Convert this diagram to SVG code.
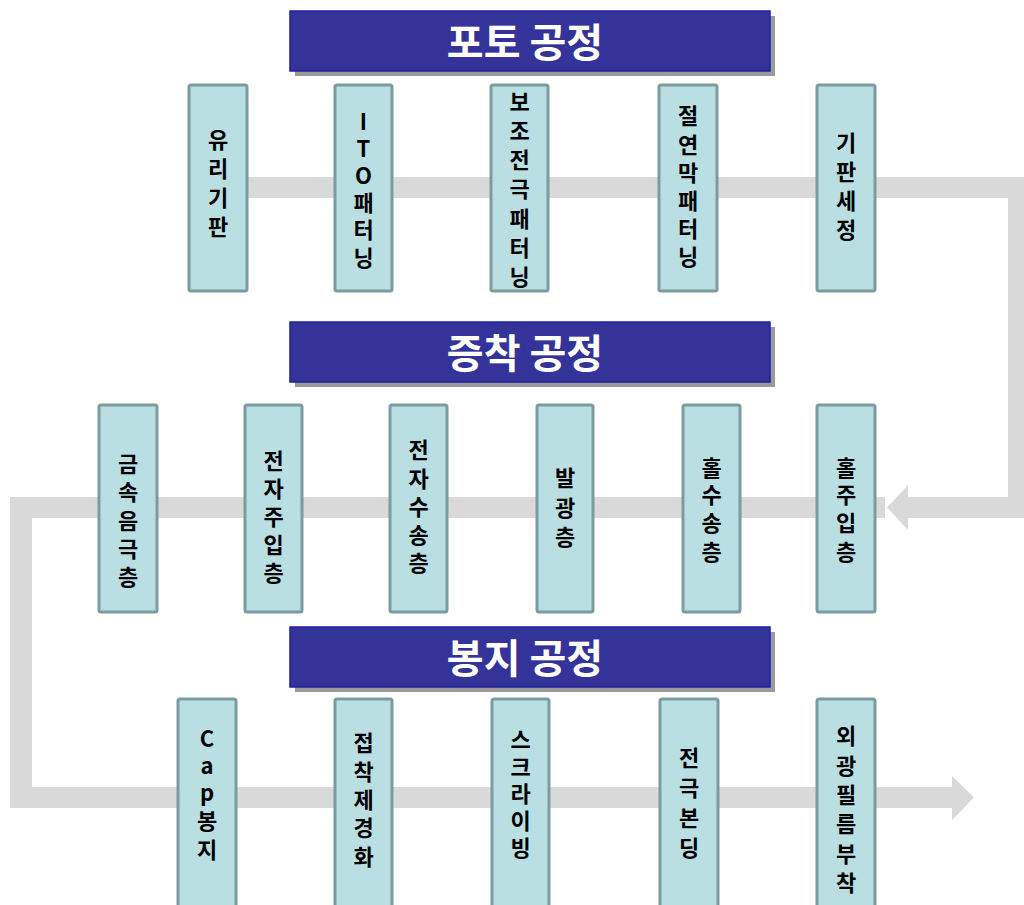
<svg xmlns="http://www.w3.org/2000/svg" width="1024" height="905" viewBox="0 0 1024 905">
<style>
.band{fill:#d9d9d9}
.bar{fill:#333399;stroke:#2020a0;stroke-width:1.5}
.shadow{fill:#9a9a9a}
.ttl{font-family:"Noto Sans CJK KR","Noto Sans",sans-serif;font-weight:bold;font-size:40px;fill:#ffffff;text-anchor:middle}
.box{fill:#b9dfe3;stroke:#7b9b9d;stroke-width:3}
.lbl{font-family:"Noto Sans CJK KR","Noto Sans",sans-serif;font-weight:bold;font-size:22px;fill:#000000;text-anchor:middle}
</style>
<rect width="1024" height="905" fill="#ffffff"/>
<g id="connectors">
  <rect class="band" x="218" y="177" width="811" height="21"/>
  <rect class="band" x="1008" y="177" width="21" height="341"/>
  <rect class="band" x="906" y="497" width="123" height="21"/>
  <polygon class="band" points="908,485 887,507.5 908,530"/>
  <rect class="band" x="10" y="497" width="875" height="21"/>
  <rect class="band" x="10" y="497" width="22" height="311"/>
  <rect class="band" x="10" y="787" width="944" height="21"/>
  <polygon class="band" points="952,776 974,797.5 952,820"/>
</g>
<g id="title-photo">
  <rect class="shadow" x="295" y="16" width="480" height="60"/>
  <rect class="bar" x="290" y="11" width="480" height="60"/>
  <text class="ttl" x="525" y="57">포토 공정</text>
</g>
<g id="title-deposition">
  <rect class="shadow" x="295" y="327" width="480" height="60"/>
  <rect class="bar" x="290" y="322" width="480" height="60"/>
  <text class="ttl" x="525" y="368">증착 공정</text>
</g>
<g id="title-encap">
  <rect class="shadow" x="295" y="632" width="480" height="60"/>
  <rect class="bar" x="290" y="627" width="480" height="60"/>
  <text class="ttl" x="525" y="673">봉지 공정</text>
</g>
<g id="n-glass">
  <rect class="box" x="189" y="85" width="58" height="206" rx="2"/>
  <text class="lbl"><tspan x="218" y="148">유</tspan><tspan x="218" y="177">리</tspan><tspan x="218" y="206">기</tspan><tspan x="218" y="235">판</tspan></text>
</g>
<g id="n-ito">
  <rect class="box" x="335" y="85" width="57" height="206" rx="2"/>
  <text class="lbl"><tspan x="363.5" y="130">I</tspan><tspan x="363.5" y="157">T</tspan><tspan x="363.5" y="184">O</tspan><tspan x="363.5" y="211">패</tspan><tspan x="363.5" y="238">터</tspan><tspan x="363.5" y="266">닝</tspan></text>
</g>
<g id="n-aux">
  <rect class="box" x="491" y="85" width="57" height="206" rx="2"/>
  <text class="lbl"><tspan x="519.5" y="110">보</tspan><tspan x="519.5" y="139">조</tspan><tspan x="519.5" y="168">전</tspan><tspan x="519.5" y="197">극</tspan><tspan x="519.5" y="227">패</tspan><tspan x="519.5" y="256">터</tspan><tspan x="519.5" y="285">닝</tspan></text>
</g>
<g id="n-insul">
  <rect class="box" x="659" y="85" width="58" height="206" rx="2"/>
  <text class="lbl"><tspan x="688" y="124">절</tspan><tspan x="688" y="153">연</tspan><tspan x="688" y="181">막</tspan><tspan x="688" y="209">패</tspan><tspan x="688" y="237">터</tspan><tspan x="688" y="265">닝</tspan></text>
</g>
<g id="n-clean">
  <rect class="box" x="817" y="85" width="58" height="206" rx="2"/>
  <text class="lbl"><tspan x="846" y="151">기</tspan><tspan x="846" y="180">판</tspan><tspan x="846" y="209">세</tspan><tspan x="846" y="238">정</tspan></text>
</g>
<g id="n-cathode">
  <rect class="box" x="99" y="405" width="58" height="207" rx="2"/>
  <text class="lbl"><tspan x="128" y="472">금</tspan><tspan x="128" y="500">속</tspan><tspan x="128" y="529">음</tspan><tspan x="128" y="557">극</tspan><tspan x="128" y="585">층</tspan></text>
</g>
<g id="n-eil">
  <rect class="box" x="245" y="405" width="57" height="207" rx="2"/>
  <text class="lbl"><tspan x="273.5" y="469">전</tspan><tspan x="273.5" y="497">자</tspan><tspan x="273.5" y="525">주</tspan><tspan x="273.5" y="553">입</tspan><tspan x="273.5" y="581">층</tspan></text>
</g>
<g id="n-etl">
  <rect class="box" x="390" y="405" width="57" height="207" rx="2"/>
  <text class="lbl"><tspan x="418.5" y="458">전</tspan><tspan x="418.5" y="487">자</tspan><tspan x="418.5" y="515">수</tspan><tspan x="418.5" y="543">송</tspan><tspan x="418.5" y="571">층</tspan></text>
</g>
<g id="n-eml">
  <rect class="box" x="537" y="405" width="56" height="207" rx="2"/>
  <text class="lbl"><tspan x="565" y="486">발</tspan><tspan x="565" y="516">광</tspan><tspan x="565" y="545">층</tspan></text>
</g>
<g id="n-htl">
  <rect class="box" x="683" y="405" width="57" height="207" rx="2"/>
  <text class="lbl"><tspan x="711.5" y="476">홀</tspan><tspan x="711.5" y="503">수</tspan><tspan x="711.5" y="531">송</tspan><tspan x="711.5" y="560">층</tspan></text>
</g>
<g id="n-hil">
  <rect class="box" x="817" y="405" width="58" height="207" rx="2"/>
  <text class="lbl"><tspan x="846" y="476">홀</tspan><tspan x="846" y="503">주</tspan><tspan x="846" y="531">입</tspan><tspan x="846" y="560">층</tspan></text>
</g>
<g id="n-cap">
  <rect class="box" x="178" y="699" width="58" height="210" rx="2"/>
  <text class="lbl"><tspan x="207" y="747">C</tspan><tspan x="207" y="774">a</tspan><tspan x="207" y="801">p</tspan><tspan x="207" y="829">봉</tspan><tspan x="207" y="858">지</tspan></text>
</g>
<g id="n-cure">
  <rect class="box" x="335" y="699" width="57" height="210" rx="2"/>
  <text class="lbl"><tspan x="363.5" y="751">접</tspan><tspan x="363.5" y="780">착</tspan><tspan x="363.5" y="808">제</tspan><tspan x="363.5" y="836">경</tspan><tspan x="363.5" y="865">화</tspan></text>
</g>
<g id="n-scribe">
  <rect class="box" x="492" y="699" width="57" height="210" rx="2"/>
  <text class="lbl"><tspan x="520.5" y="748">스</tspan><tspan x="520.5" y="775">크</tspan><tspan x="520.5" y="802">라</tspan><tspan x="520.5" y="829">이</tspan><tspan x="520.5" y="856">빙</tspan></text>
</g>
<g id="n-bond">
  <rect class="box" x="660" y="699" width="58" height="210" rx="2"/>
  <text class="lbl"><tspan x="689" y="766">전</tspan><tspan x="689" y="796">극</tspan><tspan x="689" y="826">본</tspan><tspan x="689" y="856">딩</tspan></text>
</g>
<g id="n-film">
  <rect class="box" x="817" y="699" width="58" height="210" rx="2"/>
  <text class="lbl"><tspan x="846" y="744">외</tspan><tspan x="846" y="774">광</tspan><tspan x="846" y="803">필</tspan><tspan x="846" y="832">름</tspan><tspan x="846" y="862">부</tspan><tspan x="846" y="891">착</tspan></text>
</g>
</svg>
